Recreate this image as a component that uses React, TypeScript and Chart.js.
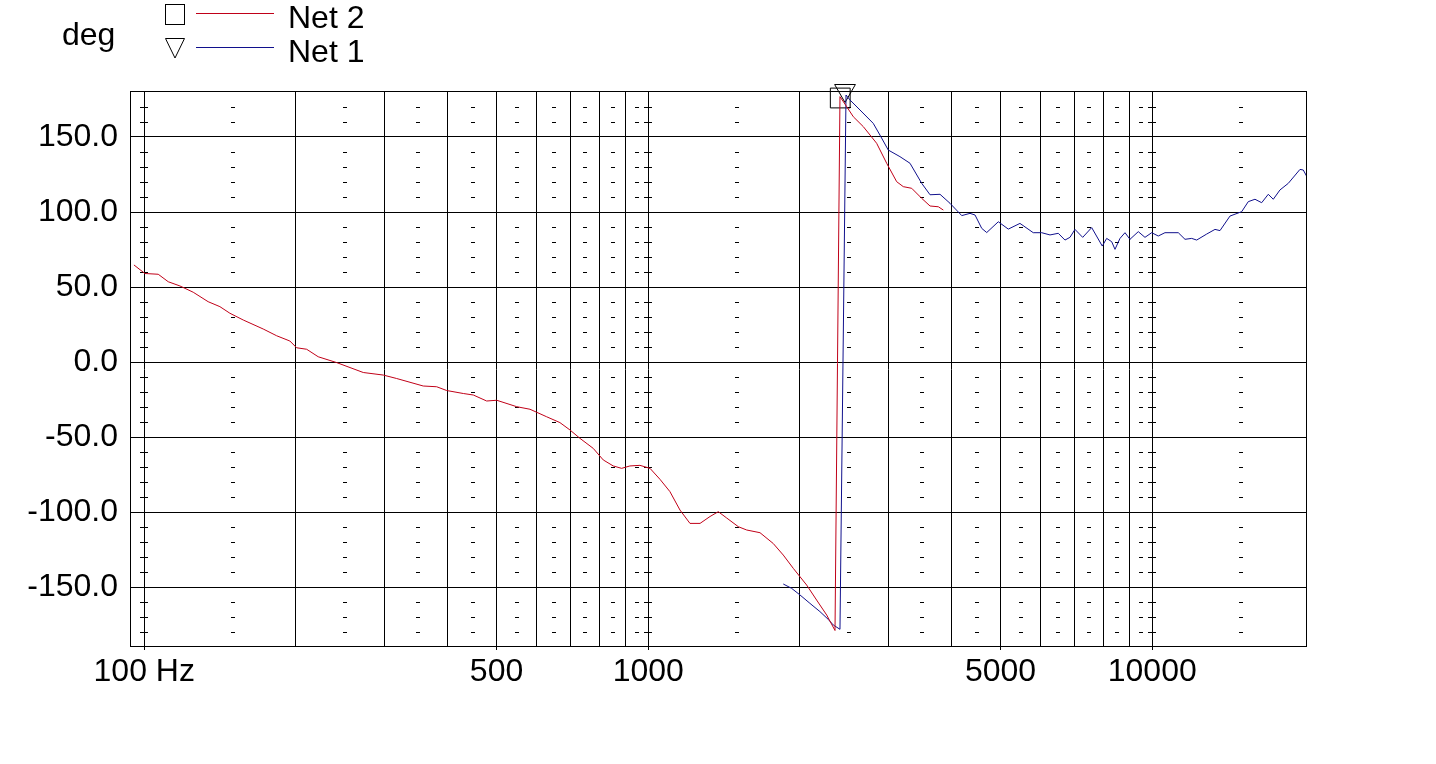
import React, { useEffect, useRef } from "react";
import { Chart, registerables } from "chart.js";

Chart.register(...registerables);

// ---- Data ----
const net2Freq = [95.4, 100.3, 106.6, 111.6, 117.7, 125.1, 133.9, 141.3, 147.9, 157.2, 172.2, 183.1, 194.5, 200.6, 210.0, 221.4, 240.9, 272.0, 298.0, 316.8, 357.7, 380.4, 398.1, 429.6, 449.7, 478.0, 500.4, 548.3, 582.6, 628.6, 668.0, 699.2, 732.0, 777.8, 814.2, 852.2, 885.5, 919.7, 962.8, 1008, 1055, 1104, 1156, 1210, 1267, 1326, 1377, 1431, 1509, 1568, 1666, 1770, 1853, 1940, 2062, 2158, 2260, 2347, 2401, 2476, 2552, 2671, 2839, 2972, 3111, 3206, 3332, 3488, 3623, 3763, 3850];
const net2Deg = [64.7, 59, 58.5, 53.5, 50.7, 46.5, 40.2, 36.9, 32.5, 28, 22, 17.5, 14, 9.5, 8.5, 3.5, -0.4, -7, -8.7, -11, -16, -16.5, -19, -21, -22, -26, -25.5, -29.8, -31.5, -36.5, -40.4, -45.3, -50.9, -57.6, -65.3, -69.3, -70.9, -69.3, -68.9, -70.9, -78.2, -86.4, -98.7, -107.6, -107.6, -103, -99.8, -104, -109.8, -112, -113.8, -121, -128.7, -137.6, -148.7, -158.7, -168.7, -179, 176.9, 170.2, 163.5, 156.9, 145.8, 132.5, 120.2, 116.9, 115.8, 109.1, 104, 103.5, 101.3];

const net1Freq = [1853, 1925, 2000, 2093, 2191, 2276, 2328, 2401, 2468, 2513, 2631, 2795, 2882, 2994, 3158, 3306, 3488, 3623, 3792, 3969, 4188, 4349, 4450, 4588, 4694, 4949, 5180, 5464, 5806, 6034, 6267, 6509, 6711, 6866, 7025, 7277, 7582, 7958, 8120, 8308, 8434, 8629, 8828, 9032, 9381, 9672, 9973, 10278, 10597, 11262, 11612, 11973, 12250, 12823, 13318, 13626, 14263, 15045, 15505, 15987, 16484, 16989, 17382, 17922, 18614, 19636, 19934, 20395];
const net1Deg = [-148, -150.9, -155.3, -160.9, -166.4, -171.6, -175.3, -178.2, 178, 174.7, 168, 159.1, 151.3, 141.3, 136.9, 132.5, 119.1, 111.5, 111.8, 105.8, 97.6, 99.1, 98, 89.1, 86.3, 93.5, 88.6, 92.4, 86.2, 86.2, 84.7, 85.8, 81.3, 83.1, 88.4, 83.1, 89.6, 77.3, 82.4, 80.2, 75.1, 82.4, 86.2, 81.8, 86.9, 83.1, 86.2, 84, 86.2, 86.2, 81.8, 82.4, 81.3, 85.3, 88.4, 87.6, 97.3, 100.2, 106.9, 108.5, 106.2, 111.8, 108.5, 114.7, 119.1, 128.4, 128, 121.8];

const net2MarkerFreq = [2404];
const net2MarkerDeg = [176];
const net1MarkerFreq = [2457];
const net1MarkerDeg = [181];

const xGridFreqs = [100, 200, 300, 400, 500, 600, 700, 800, 900, 1000, 2000, 3000, 4000, 5000, 6000, 7000, 8000, 9000, 10000];
const xLabels: Record<number, string> = { 100: "100 Hz", 500: "500", 1000: "1000", 5000: "5000", 10000: "10000" };
const xMinorFreqs = [150, 250, 350, 450, 550, 650, 750, 850, 950, 1500, 2500, 3500, 4500, 5500, 6500, 7500, 8500, 9500, 15000];
const xDecadeFreqs = [100, 1000, 10000];
const yTicks = [-150, -100, -50, 0, 50, 100, 150];
const yMinorDegs = [-180, -170, -160, -140, -130, -120, -110, -90, -80, -70, -60, -40, -30, -20, -10, 10, 20, 30, 40, 60, 70, 80, 90, 110, 120, 130, 140, 160, 170];

const RED = "#c00018";
const BLUE = "#10108c";
const FONT = "'Liberation Sans', Arial, sans-serif";

const zip = (xs: number[], ys: number[]) => xs.map((x, i) => ({ x, y: ys[i] }));

const decorPlugin = {
  id: "decor",
  beforeDatasetsDraw(chart: any) {
    const { ctx, chartArea, scales } = chart;
    const xs = scales.x;
    const ys = scales.y;
    ctx.save();
    ctx.strokeStyle = "#000";
    ctx.lineWidth = 1;
    ctx.beginPath();
    for (const f of xMinorFreqs) {
      const px = Math.round(xs.getPixelForValue(f));
      for (const d of yMinorDegs) {
        const py = Math.round(ys.getPixelForValue(d)) + 0.5;
        ctx.moveTo(px - 2, py);
        ctx.lineTo(px + 2, py);
      }
    }
    for (const f of xDecadeFreqs) {
      const px = Math.round(xs.getPixelForValue(f));
      for (const d of yMinorDegs) {
        const py = Math.round(ys.getPixelForValue(d)) + 0.5;
        ctx.moveTo(px - 4, py);
        ctx.lineTo(px + 4, py);
      }
    }
    ctx.stroke();
    // frame
    ctx.strokeRect(chartArea.left + 0.5, chartArea.top - 0.5, chartArea.right - chartArea.left, chartArea.bottom - chartArea.top);
    ctx.restore();
  },
};

export default function App() {
  const ref = useRef<HTMLCanvasElement | null>(null);
  useEffect(() => {
    document.body.style.margin = "0";
    const canvas = ref.current!;
    const chart = new Chart(canvas, {
      type: "line",
      data: {
        datasets: [
          {
            label: "Net 2",
            data: zip(net2Freq, net2Deg),
            borderColor: RED,
            borderWidth: 1,
            pointRadius: 0,
            tension: 0,
          },
          {
            label: "Net 1",
            data: zip(net1Freq, net1Deg),
            borderColor: BLUE,
            borderWidth: 1,
            pointRadius: 0,
            tension: 0,
          },
          {
            label: "Net 2 marker",
            data: zip(net2MarkerFreq, net2MarkerDeg),
            showLine: false,
            pointStyle: "rect",
            pointRadius: 14,
            pointBorderColor: "#000",
            pointBackgroundColor: "rgba(0,0,0,0)",
            pointBorderWidth: 1,
            clip: false as any,
          },
          {
            label: "Net 1 marker",
            data: zip(net1MarkerFreq, net1MarkerDeg),
            showLine: false,
            pointStyle: "triangle",
            pointRotation: 180,
            pointRadius: 12,
            pointBorderColor: "#000",
            pointBackgroundColor: "rgba(0,0,0,0)",
            pointBorderWidth: 1,
            clip: false as any,
          },
        ],
      },
      options: {
        animation: false,
        responsive: false,
        events: [],
        layout: { padding: { top: 92, right: 130, left: 0, bottom: 0 } },
        plugins: { legend: { display: false }, tooltip: { enabled: false } },
        scales: {
          x: {
            type: "logarithmic",
            min: 93.7,
            max: 20184,
            afterFit: (s: any) => {
              s.height = 117;
            },
            afterBuildTicks: (s: any) => {
              s.ticks = xGridFreqs.map((v) => ({ value: v }));
            },
            border: { display: false },
            grid: {
              color: "#000",
              lineWidth: 1,
              drawTicks: true,
              tickLength: 3,
              tickColor: (c: any) => (c.tick && xLabels[c.tick.value] ? "#000" : "rgba(0,0,0,0)"),
            },
            ticks: {
              autoSkip: false,
              maxRotation: 0,
              minRotation: 0,
              padding: 3,
              color: "#000",
              font: { family: FONT, size: 32 },
              callback: (v: any) => xLabels[Number(v)] || "",
            },
          },
          y: {
            type: "linear",
            min: -190,
            max: 180,
            afterFit: (s: any) => {
              s.width = 130;
            },
            afterBuildTicks: (s: any) => {
              s.ticks = yTicks.map((v) => ({ value: v }));
            },
            border: { display: false },
            grid: { color: "#000", lineWidth: 1, drawTicks: false },
            ticks: {
              padding: 12,
              color: "#000",
              font: { family: FONT, size: 32 },
              callback: (v: any) => Number(v).toFixed(1),
            },
          },
        },
      },
      plugins: [decorPlugin],
    });
    return () => chart.destroy();
  }, []);

  const text: React.CSSProperties = {
    position: "absolute",
    fontFamily: FONT,
    fontSize: 32,
    lineHeight: "32px",
    color: "#000",
    whiteSpace: "nowrap",
  };

  return (
    <div style={{ position: "absolute", left: 0, top: 0, width: 1436, height: 764, background: "#fff" }}>
      <canvas ref={ref} width={1436} height={764} style={{ position: "absolute", left: 0, top: 0, width: 1436, height: 764 }} />
      <div style={{ ...text, left: 62, top: 18 }}>deg</div>
      <div style={{ position: "absolute", left: 165, top: 4, width: 18, height: 19, border: "1px solid #000" }} />
      <div style={{ position: "absolute", left: 196, top: 13, width: 78, height: 1, background: RED }} />
      <div style={{ ...text, left: 288, top: 1 }}>Net 2</div>
      <svg style={{ position: "absolute", left: 164, top: 37 }} width={23} height={23}>
        <polygon points="1.5,1.5 20.5,1.5 11,21" fill="none" stroke="#000" strokeWidth={1} />
      </svg>
      <div style={{ position: "absolute", left: 196, top: 47, width: 78, height: 1, background: BLUE }} />
      <div style={{ ...text, left: 288, top: 35 }}>Net 1</div>
    </div>
  );
}
